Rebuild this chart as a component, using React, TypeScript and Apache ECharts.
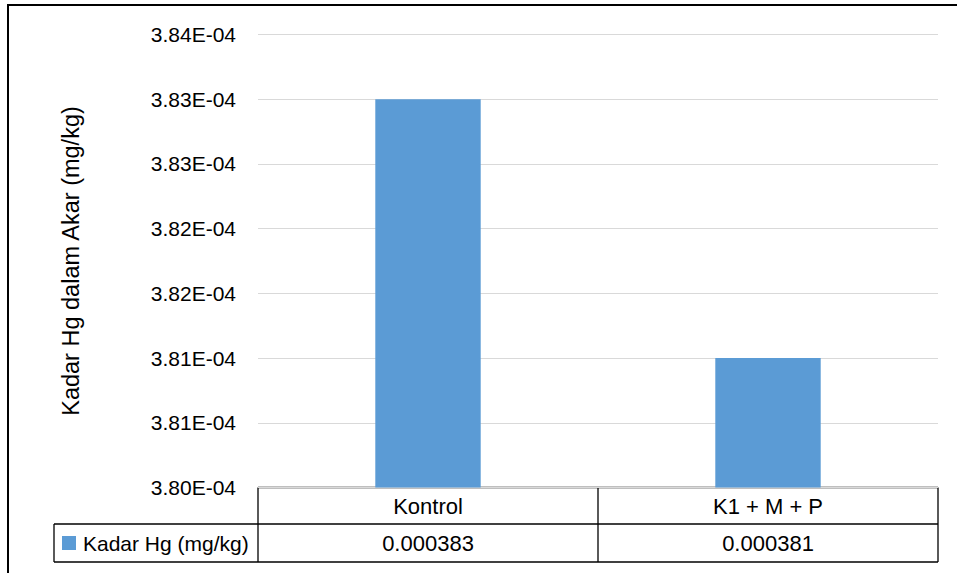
import React, { useEffect, useRef } from "react";
import * as echarts from "echarts";

const categories = ["Kontrol", "K1 + M + P"];
const values = [0.000383, 0.000381];
const seriesName = "Kadar Hg (mg/kg)";
const yAxisTitle = "Kadar Hg dalam Akar (mg/kg)";
const yMin = 0.00038;
const yMax = 0.0003835;
const yStep = 0.0000005;

const FONT = "Liberation Sans, Arial, sans-serif";
const BAR_COLOR = "#5b9bd5";

function sci(v: number): string {
  const exp = Math.floor(Math.log10(Math.abs(v)) + 1e-9);
  const m = v / Math.pow(10, exp);
  const mant = (Math.round(m * 100 + 1e-6) / 100).toFixed(2);
  const sign = exp < 0 ? "-" : "+";
  const e = String(Math.abs(exp)).padStart(2, "0");
  return `${mant}E${sign}${e}`;
}

export default function App() {
  const ref = useRef<HTMLDivElement>(null);
  useEffect(() => {
    if (!ref.current) return;
    const chart = echarts.init(ref.current, null, { renderer: "svg" });
    const L = 258, R = 938, T = 34.5, B = 487.5;
    const row1 = 524, row2 = 562, legL = 54, mid = (L + R) / 2;
    const lineStyle = { stroke: "#000", lineWidth: 1.3 };
    const hl = (x1: number, x2: number, y: number) => ({ type: "line", shape: { x1, y1: y, x2, y2: y }, style: lineStyle, silent: true });
    const vl = (x: number, y1: number, y2: number) => ({ type: "line", shape: { x1: x, y1, x2: x, y2 }, style: lineStyle, silent: true });
    chart.setOption({
      animation: false,
      backgroundColor: "#fff",
      textStyle: { fontFamily: FONT },
      grid: { left: L, right: 957 - R, top: T, bottom: 573 - B, containLabel: false },
      xAxis: [
        {
          type: "category",
          data: categories,
          axisLine: { show: false },
          axisTick: { show: false },
          axisLabel: { color: "#000", fontSize: 22, fontFamily: FONT, margin: 18.5, verticalAlign: "middle" },
        },
        {
          type: "category",
          data: categories,
          position: "bottom",
          offset: row1 - B,
          axisLine: { show: false },
          axisTick: { show: false },
          axisLabel: {
            color: "#000",
            fontSize: 22,
            fontFamily: FONT,
            margin: 19,
            verticalAlign: "middle",
            formatter: (_v: string, i: number) => values[i].toFixed(6),
          },
        },
      ],
      yAxis: {
        type: "value",
        min: yMin,
        max: yMax,
        interval: yStep,
        name: yAxisTitle,
        nameLocation: "middle",
        nameRotate: 90,
        nameGap: 175,
        nameTextStyle: { color: "#000", fontSize: 23.5, fontFamily: FONT },
        axisLine: { show: false },
        axisTick: { show: false },
        axisLabel: { color: "#000", fontSize: 21, fontFamily: FONT, margin: 22, formatter: (v: number) => sci(v) },
        splitLine: { lineStyle: { color: "#d9d9d9", width: 1 } },
      },
      series: [
        {
          name: seriesName,
          type: "bar",
          data: values,
          barWidth: "31%",
          itemStyle: { color: BAR_COLOR },
        },
      ],
      graphic: [
        { type: "rect", shape: { x: 8, y: 5, width: 2000, height: 2000 }, style: { fill: "none", stroke: "#000", lineWidth: 2 }, silent: true },
        hl(L, R, B),
        hl(legL, R, row1),
        hl(legL, R, row2),
        vl(legL, row1, row2),
        vl(L, B, row2),
        vl(mid, B, row2),
        vl(R, B, row2),
        { type: "rect", shape: { x: 62, y: 536, width: 14, height: 14 }, style: { fill: BAR_COLOR }, silent: true },
        { type: "text", x: 83, y: (row1 + row2) / 2, style: { text: seriesName, fontSize: 21, fontFamily: FONT, fill: "#000", verticalAlign: "middle", align: "left" }, silent: true },
      ],
    });
    return () => chart.dispose();
  }, []);
  return <div ref={ref} style={{ position: "fixed", left: 0, top: 0, width: 957, height: 573 }} />;
}
